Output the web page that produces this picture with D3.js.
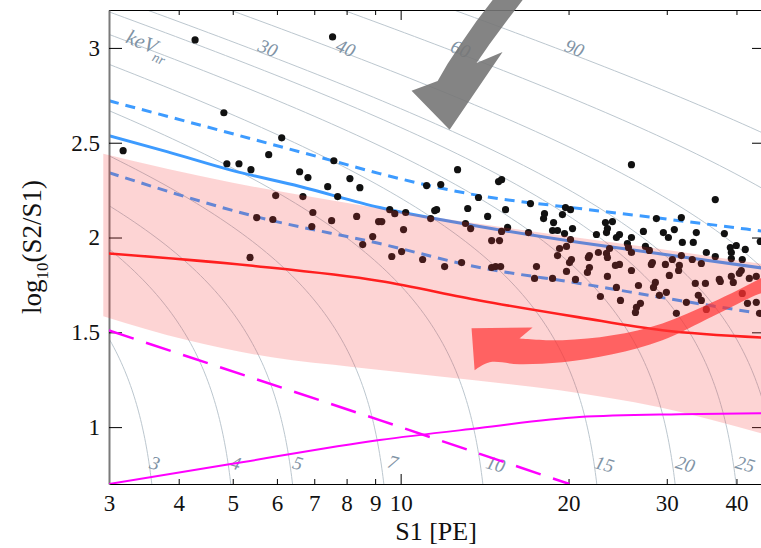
<!DOCTYPE html>
<html>
<head>
<meta charset="utf-8">
<script src="https://cdnjs.cloudflare.com/ajax/libs/d3/7.8.5/d3.min.js"></script>
<style>
  body { margin: 0; background: #fff; }
  svg { display: block; }
</style>
</head>
<body>
<script>
// ---- data (S1 in PE, log10(S2/S1)) ----
let xTicks = [3, 4, 5, 6, 7, 8, 9, 10, 20, 30, 40];
let xTickLabels = ["3", "4", "5", "6", "7", "8", "9", "10", "20", "30", "40"];
let yTicks = [1, 1.5, 2, 2.5, 3];

// events
let eventS1 = [4.28, 7.55, 3.18, 4.82, 6.12, 4.88, 5.13, 5.39, 5.80, 6.59, 6.82, 7.59, 7.40, 7.71, 8.11, 8.45,
  5.97, 6.68, 6.96, 5.52, 5.90, 6.93, 7.52, 8.34, 9.13, 8.91, 8.55, 5.37,
  12.65, 11.13, 11.80, 14.98, 15.17, 13.79, 11.60, 11.51, 13.19, 14.32, 15.42, 17.09, 18.11, 18.04, 18.80,
  19.50, 19.75, 20.16, 20.33, 25.93, 23.29, 23.97, 23.48, 23.39, 24.68, 25.93, 27.24, 28.74, 29.58, 30.20,
  30.95, 31.86, 31.99, 33.47, 33.89, 36.65, 38.05, 35.32, 36.65, 39.0, 39.97, 41.48, 39.16, 39.16, 40.97, 44.13,
  9.56, 9.76, 10.21, 9.25, 11.32, 10.12, 9.64, 10.04, 10.95, 11.99, 12.86, 13.07, 13.35, 14.56, 15.04, 15.17,
  15.55, 16.95, 18.72, 19.11, 19.67, 20.16, 19.83, 19.27, 19.11, 20.24, 20.08, 19.83, 17.52, 17.38, 18.72,
  14.56, 14.80, 15.11, 22.44, 24.37, 25.50, 25.61, 23.69, 21.80, 21.70, 22.62, 23.39, 23.48, 24.68, 24.27,
  21.80, 21.62, 23.48, 25.93, 27.47, 27.92, 28.27, 28.15, 29.83, 30.70, 31.86, 31.60, 31.50, 33.33, 34.60,
  30.32, 37.26, 39.16, 40.80, 40.47, 42.18, 43.41,
  20.58, 24.37, 22.81, 24.78, 25.93, 26.69, 26.91, 26.47, 26.36, 28.62, 28.40, 29.10, 29.95, 31.21, 32.53,
  33.75, 35.19, 34.17, 34.60, 35.32, 37.42, 39.48, 40.97, 41.86, 43.41, 44.0];
let eventLog = [3.042, 3.058, 2.458, 2.658, 2.526, 2.389, 2.389, 2.358, 2.437, 2.347, 2.316, 2.405, 2.268, 2.216, 2.311, 2.263,
  2.221, 2.216, 2.132, 2.105, 2.095, 2.058, 2.089, 2.111, 2.084, 2.005, 1.963, 1.895,
  2.358, 2.274, 2.279, 2.295, 2.305, 2.211, 2.147, 2.142, 2.153, 2.111, 2.147, 2.179, 2.126, 2.100, 2.079,
  2.121, 2.158, 2.147, 2.047, 2.384, 2.079, 2.084, 2.047, 2.026, 2.016, 2.000, 2.032, 2.100, 2.026, 2.000,
  2.042, 2.105, 1.974, 1.974, 2.026, 2.200, 2.021, 1.921, 1.900, 1.947, 1.958, 1.937, 1.921, 1.889, 1.884, 1.979,
  2.147, 2.126, 2.132, 2.084, 2.100, 2.042, 1.900, 1.926, 1.884, 1.847, 1.868, 2.074, 2.047, 1.984, 1.984, 2.032,
  2.053, 2.026, 2.037, 2.037, 2.021, 1.989, 1.953, 1.942, 1.905, 1.884, 1.868, 1.821, 1.847, 1.784, 1.784,
  1.842, 1.847, 1.847, 2.016, 2.000, 1.968, 1.947, 1.942, 1.905, 1.895, 1.921, 1.916, 1.895, 1.858, 1.853,
  1.842, 1.816, 1.795, 1.921, 1.953, 1.932, 1.868, 1.858, 1.858, 1.884, 1.905, 1.853, 1.826, 1.884, 1.863,
  1.800, 1.779, 1.795, 1.826, 1.811, 1.784, 1.795,
  1.779, 1.737, 1.689, 1.668, 1.826, 1.747, 1.653, 1.632, 1.605, 1.763, 1.737, 1.695, 1.711, 1.600, 1.658,
  1.758, 1.758, 1.695, 1.668, 1.621, 1.768, 1.763, 1.705, 1.653, 1.658, 1.600];

// ER band (blue): median and +-
let erS1 = [3.0, 3.81, 5.0, 6.6, 9.17, 13.85, 20.92, 31.6, 45];
let erMedian = [2.537, 2.453, 2.353, 2.269, 2.158, 2.058, 1.974, 1.900, 1.837];
let erUpS1 = [3.0, 5.0, 7.55, 9.17, 13.85, 20.92, 31.6, 45];
let erUpper = [2.721, 2.547, 2.405, 2.337, 2.221, 2.153, 2.089, 2.032];
let erLoS1 = [3.0, 5.59, 9.17, 13.85, 20.92, 31.6, 45];
let erLower = [2.342, 2.105, 1.968, 1.842, 1.758, 1.668, 1.595];

// NR band (red)
let nrS1 = [3.0, 5.37, 9.17, 13.85, 20.92, 29.46, 45];
let nrMedian = [1.916, 1.852, 1.771, 1.668, 1.579, 1.511, 1.472];
let nrTopS1 = [2.93, 5.0, 7.55, 10.5, 18.3, 28, 45];
let nrTop = [2.442, 2.289, 2.195, 2.126, 2.021, 1.947, 1.858];
let nrBotS1 = [2.93, 4.155, 5.875, 8.27, 13.57, 19.27, 29.1, 45];
let nrBot = [1.585, 1.458, 1.368, 1.316, 1.247, 1.195, 1.105, 0.962];

// magenta curves
let magDashS1 = [3.0, 9.17, 20.07];
let magDash = [1.51, 1.037, 0.7];
let magS1 = [3.0, 4.96, 9.17, 13.85, 20.92, 31.6, 45];
let magSolid = [0.7, 0.805, 0.932, 0.995, 1.053, 1.068, 1.074];

// energy contours (keVnr): S1 where each meets log10(S2/S1)=0.7
let contourE = [3, 4, 5, 7, 10, 15, 20, 25, 30, 40, 60, 90];
let contourS1 = [3.58, 4.96, 6.40, 9.33, 14.04, 22.47, 31.05, 39.93, 47.7, 67.2, 107.1, 169.3];
let contourR = 0.0083;
let labelE = ["3", "4", "5", "7", "10", "15", "20", "25", "30", "40", "60", "90"];
let labelS1 = [3.58, 5.0, 6.46, 9.56, 14.62, 22.91, 31.99, 40.97, 5.71, 7.87, 12.65, 20.24];
let labelLog = [0.811, 0.811, 0.811, 0.816, 0.805, 0.805, 0.805, 0.805, 3.0, 3.0, 2.995, 3.0];

// arrows
let grayArrowS1 = [15.04, 13.68, 12.92, 12.14, 11.65, 10.46, 12.24, 15.23, 13.68, 14.44, 15.49, 17.02];
let grayArrowLog = [3.3, 3.142, 3.037, 2.916, 2.826, 2.774, 2.568, 2.979, 2.921, 3.021, 3.142, 3.3];
// red arrow: head (tip, barb, notch), body upper edge, body lower edge, head bottom
let redHeadS1 = [13.40, 17.24];
let redHeadLog = [1.521, 1.526];
let redUpS1 = [16.33, 19.50, 23.97, 29.46, 36.21, 44.13, 47];
let redUpLog = [1.468, 1.458, 1.484, 1.547, 1.658, 1.784, 1.83];
let redLoS1 = [47, 44.13, 36.21, 29.46, 23.97, 19.50, 16.33, 14.44, 13.57];
let redLoLog = [1.725, 1.705, 1.584, 1.458, 1.384, 1.342, 1.332, 1.342, 1.300];

// ---- drawing ----
let svgWidth = 761, svgHeight = 548;
let svg = d3.select("body").append("svg")
  .attr("width", svgWidth).attr("height", svgHeight);

let x = d3.scaleLog().domain([3, 45]).range([109, 765]);
let y = d3.scaleLinear().domain([0.7, 3.2]).range([484, 10]);

let serif = "'Liberation Serif', 'DejaVu Serif', serif";

svg.append("clipPath").attr("id", "plot")
  .append("rect").attr("x", 109).attr("y", 10).attr("width", 656).attr("height", 474);

let zip = (xs, ys) => xs.map((v, i) => [v, ys[i]]);
let line = d3.line().x(d => x(d[0])).y(d => y(d[1])).curve(d3.curveMonotoneX);
let poly = d3.line().x(d => x(d[0])).y(d => y(d[1]));

// contours
let contourG = svg.append("g").attr("clip-path", "url(#plot)");
let vSteps = d3.range(0.7, 3.26, 0.02);
contourS1.forEach(s0 => {
  let pts = vSteps.map(v => [s0 * (1 + contourR * Math.pow(10, 0.7)) / (1 + contourR * Math.pow(10, v)), v]);
  contourG.append("path")
    .attr("d", poly(pts))
    .attr("fill", "none").attr("stroke", "#bcc7cf").attr("stroke-width", 1);
});

labelE.forEach((t, i) => {
  svg.append("text")
    .attr("transform", "translate(" + (x(labelS1[i]) + 3) + "," + y(labelLog[i]) + ") rotate(" + (i < 8 ? 16 : 22) + ")")
    .attr("text-anchor", "middle").attr("dominant-baseline", "central")
    .attr("font-family", serif).attr("font-style", "italic").attr("font-size", 19)
    .attr("fill", "#7f93a5").text(t);
});
let kev = svg.append("text")
  .attr("transform", "translate(" + x(3.2) + "," + y(3.03) + ") rotate(22)")
  .attr("font-family", serif).attr("font-style", "italic").attr("font-size", 21)
  .attr("fill", "#7f93a5");
kev.append("tspan").text("keV");
kev.append("tspan").attr("font-size", 14).attr("dy", 7).text("nr");

// blue ER lines
let plotG = svg.append("g").attr("clip-path", "url(#plot)");
plotG.append("path").attr("d", line(zip(erUpS1, erUpper)))
  .attr("fill", "none").attr("stroke", "#3d9bff").attr("stroke-width", 3).attr("stroke-dasharray", "10,7");
plotG.append("path").attr("d", line(zip(erS1, erMedian)))
  .attr("fill", "none").attr("stroke", "#3d9bff").attr("stroke-width", 3);
plotG.append("path").attr("d", line(zip(erLoS1, erLower)))
  .attr("fill", "none").attr("stroke", "#3d9bff").attr("stroke-width", 3).attr("stroke-dasharray", "10,7");

// events
plotG.selectAll("circle").data(zip(eventS1, eventLog)).enter().append("circle")
  .attr("cx", d => x(d[0])).attr("cy", d => y(d[1])).attr("r", 3.6).attr("fill", "#111");

// axes
let bottomAxis = svg.append("g").attr("transform", "translate(0,484)")
  .call(d3.axisBottom(x).tickValues(xTicks).tickFormat((d, i) => xTickLabels[i]).tickSize(-5).tickSizeOuter(0).tickPadding(11));
bottomAxis.selectAll(".tick line").attr("y2", d => d === 10 ? -10 : -5);
let topAxis = svg.append("g").attr("transform", "translate(0,10)")
  .call(d3.axisTop(x).tickValues(xTicks).tickFormat("").tickSize(-5).tickSizeOuter(0));
topAxis.selectAll(".tick line").attr("y2", d => d === 10 ? 10 : 5);
let leftAxis = svg.append("g").attr("transform", "translate(109,0)")
  .call(d3.axisLeft(y).tickValues(yTicks).tickFormat(d => d).tickSize(-13).tickSizeOuter(0).tickPadding(9));
leftAxis.select(".domain").attr("stroke", "#7a7a7a").attr("stroke-width", 2);
svg.append("g").attr("transform", "translate(765,0)")
  .call(d3.axisRight(y).tickValues(yTicks).tickFormat("").tickSize(-13).tickSizeOuter(0));
[bottomAxis, leftAxis].forEach(g => g.attr("font-family", serif).attr("font-size", 23));
svg.selectAll(".tick text").attr("fill", "#111");

// NR band overlay
let bandTop = line(zip(nrTopS1, nrTop));
let bandBot = line(zip(nrBotS1, nrBot).reverse()).replace(/^M/, "L");
svg.append("path").attr("d", bandTop + bandBot + "Z")
  .attr("fill", "rgb(245,60,60)").attr("fill-opacity", 0.22);

let nrG = svg.append("g").attr("clip-path", "url(#plot)");
nrG.append("path").attr("d", line(zip(nrS1, nrMedian)))
  .attr("fill", "none").attr("stroke", "#ff1f1f").attr("stroke-width", 2.6);
nrG.append("path").attr("d", poly(zip(magDashS1, magDash)))
  .attr("fill", "none").attr("stroke", "#ff00ff").attr("stroke-width", 2.5).attr("stroke-dasharray", "26,13");
nrG.append("path").attr("d", line(zip(magS1, magSolid)))
  .attr("fill", "none").attr("stroke", "#ff00ff").attr("stroke-width", 2);

// arrows
svg.append("path").attr("d", poly(zip(grayArrowS1, grayArrowLog)) + "Z")
  .attr("fill", "#777").attr("fill-opacity", 0.9);
let smooth = d3.line().x(d => x(d[0])).y(d => y(d[1])).curve(d3.curveCatmullRom);
let redPath = poly(zip(redHeadS1, redHeadLog))
  + smooth(zip(redUpS1, redUpLog)).replace(/^M/, "L")
  + smooth(zip(redLoS1, redLoLog)).replace(/^M/, "L") + "Z";
svg.append("path").attr("d", redPath)
  .attr("fill", "rgb(255,50,50)").attr("fill-opacity", 0.7);

// axis titles
svg.append("text").attr("x", 436).attr("y", 540).attr("text-anchor", "middle")
  .attr("font-family", serif).attr("font-size", 26).attr("fill", "#111").text("S1 [PE]");
let yl = svg.append("text").attr("transform", "translate(41,247) rotate(-90)").attr("text-anchor", "middle")
  .attr("font-family", serif).attr("font-size", 27).attr("fill", "#111");
yl.append("tspan").text("log");
yl.append("tspan").attr("font-size", 17).attr("dy", 7).text("10");
yl.append("tspan").attr("dy", -7).text("(S2/S1)");
</script>
</body>
</html>
